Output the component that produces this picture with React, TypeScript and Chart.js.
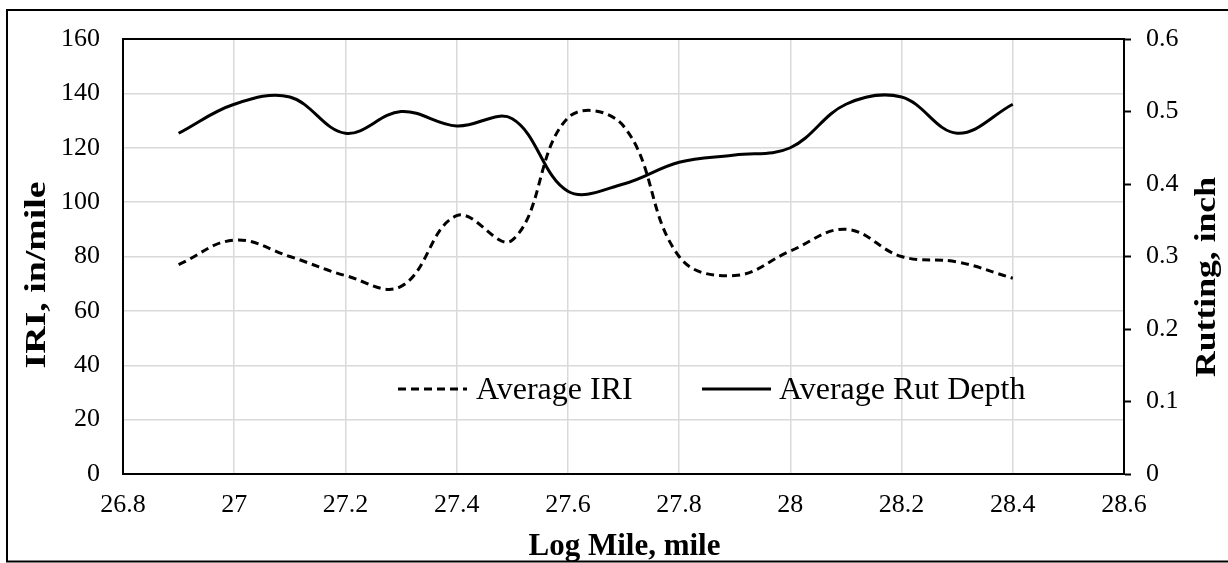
import React, { useEffect, useRef } from 'react';
import { Chart, registerables } from 'chart.js';

Chart.register(...registerables);

// ---- Data ----
const logMiles = [26.9, 27.0, 27.1, 27.2, 27.3, 27.4, 27.5, 27.6, 27.7, 27.8, 27.9, 28.0, 28.1, 28.2, 28.3, 28.4];
const averageIRI = [77, 86, 80, 73, 69, 95, 86, 131, 128, 80, 73, 82, 90, 80, 78, 72];
const averageRutDepth = [0.47, 0.51, 0.52, 0.47, 0.5, 0.48, 0.49, 0.39, 0.4, 0.43, 0.44, 0.45, 0.51, 0.52, 0.47, 0.51];
const xTicks = [26.8, 27, 27.2, 27.4, 27.6, 27.8, 28, 28.2, 28.4, 28.6];
const seriesLabels = ['Average IRI', 'Average Rut Depth'];
const xTitle = 'Log Mile, mile';
const yTitle = 'IRI, in/mile';
const y1Title = 'Rutting, inch';

const FONT = "'Liberation Serif', 'Times New Roman', serif";

const decorPlugin = {
  id: 'decor',
  beforeDraw(chart: any) {
    const ctx = chart.ctx;
    ctx.save();
    ctx.fillStyle = '#ffffff';
    ctx.fillRect(0, 0, chart.width, chart.height);
    ctx.restore();
  },
  afterDraw(chart: any) {
    const ctx = chart.ctx;
    const ca = chart.chartArea;
    ctx.save();
    // outer frame
    ctx.strokeStyle = '#000';
    ctx.lineWidth = 2;
    ctx.strokeRect(7, 10, chart.width + 10, 551.5);
    // top border of plot area
    ctx.beginPath();
    ctx.moveTo(ca.left - 1, ca.top);
    ctx.lineTo(ca.right + 1, ca.top);
    ctx.stroke();

    // axis titles
    ctx.fillStyle = '#000';
    ctx.font = `bold 31px ${FONT}`;
    ctx.textAlign = 'center';
    ctx.textBaseline = 'alphabetic';
    ctx.fillText(xTitle, (ca.left + ca.right) / 2 + 1, 555);

    const drawVert = (text: string, x: number, y: number, targetLen: number) => {
      ctx.save();
      ctx.font = `bold 30px ${FONT}`;
      const w = ctx.measureText(text).width;
      ctx.translate(x, y);
      ctx.rotate(-Math.PI / 2);
      ctx.scale(targetLen / w, 1);
      ctx.textAlign = 'center';
      ctx.textBaseline = 'alphabetic';
      ctx.fillText(text, 0, 0);
      ctx.restore();
    };
    drawVert(yTitle, 45, 275, 187);
    drawVert(y1Title, 1215, 277, 200);

    // legend inside plot area
    const legendY = 389;
    const items = [
      { ds: chart.data.datasets[0], x0: 398, x1: 467, tx: 476 },
      { ds: chart.data.datasets[1], x0: 702, x1: 771, tx: 779 },
    ];
    ctx.font = `32px ${FONT}`;
    ctx.textAlign = 'left';
    items.forEach((it) => {
      ctx.save();
      ctx.strokeStyle = it.ds.borderColor;
      ctx.lineWidth = it.ds.borderWidth;
      ctx.setLineDash(it.ds.borderDash || []);
      ctx.lineCap = 'butt';
      ctx.beginPath();
      ctx.moveTo(it.x0, legendY);
      ctx.lineTo(it.x1, legendY);
      ctx.stroke();
      ctx.restore();
      ctx.fillText(it.ds.label, it.tx, 398.5);
    });
    ctx.restore();
  },
};

export default function App() {
  const ref = useRef<HTMLCanvasElement | null>(null);

  useEffect(() => {
    if (!ref.current) return;
    const tickFont = { family: FONT, size: 26 };
    const chart = new Chart(ref.current, {
      type: 'line',
      data: {
        datasets: [
          {
            label: seriesLabels[0],
            data: logMiles.map((x, i) => ({ x, y: averageIRI[i] })),
            yAxisID: 'y',
            borderColor: '#000000',
            borderWidth: 3,
            borderDash: [8, 5],
            borderCapStyle: 'butt',
            pointRadius: 0,
            tension: 0.4,
            fill: false,
          },
          {
            label: seriesLabels[1],
            data: logMiles.map((x, i) => ({ x, y: averageRutDepth[i] })),
            yAxisID: 'y1',
            borderColor: '#000000',
            borderWidth: 3,
            borderDash: [],
            pointRadius: 0,
            tension: 0.37,
            fill: false,
          },
        ],
      },
      options: {
        responsive: false,
        animation: false,
        devicePixelRatio: 1,
        layout: { padding: { top: 39, left: 0, right: 0, bottom: 0 } },
        plugins: {
          legend: { display: false },
          tooltip: { enabled: false },
          title: { display: false },
        },
        scales: {
          x: {
            type: 'linear',
            min: xTicks[0],
            max: xTicks[xTicks.length - 1],
            afterBuildTicks: (s: any) => {
              s.ticks = xTicks.map((v) => ({ value: v }));
            },
            afterFit: (s: any) => {
              s.height = 89;
            },
            ticks: {
              callback: (v: any) => String(parseFloat(Number(v).toFixed(1))),
              font: tickFont,
              color: '#000',
              padding: 16,
              maxRotation: 0,
              autoSkip: false,
            },
            grid: { color: '#d9d9d9', lineWidth: 1.5, drawTicks: false },
            border: { color: '#000', width: 2 },
          },
          y: {
            type: 'linear',
            position: 'left',
            min: 0,
            max: 160,
            afterFit: (s: any) => {
              s.width = 123;
            },
            ticks: { stepSize: 20, font: tickFont, color: '#000', padding: 23 },
            grid: { color: '#d9d9d9', lineWidth: 1.5, drawTicks: false },
            border: { color: '#000', width: 2 },
          },
          y1: {
            type: 'linear',
            position: 'right',
            min: 0,
            max: 0.6,
            afterFit: (s: any) => {
              s.width = 104;
            },
            ticks: { stepSize: 0.1, font: tickFont, color: '#000', padding: 15 },
            grid: {
              drawOnChartArea: false,
              drawTicks: true,
              tickLength: 7,
              tickColor: '#000',
              tickWidth: 2,
            },
            border: { color: '#000', width: 2 },
          },
        },
      },
      plugins: [decorPlugin],
    } as any);
    return () => chart.destroy();
  }, []);

  return (
    <div style={{ position: 'fixed', left: 0, top: 0, width: 1228, height: 563, overflow: 'hidden', background: '#fff' }}>
      <canvas ref={ref} width={1228} height={563} style={{ display: 'block', width: 1228, height: 563 }} />
    </div>
  );
}
